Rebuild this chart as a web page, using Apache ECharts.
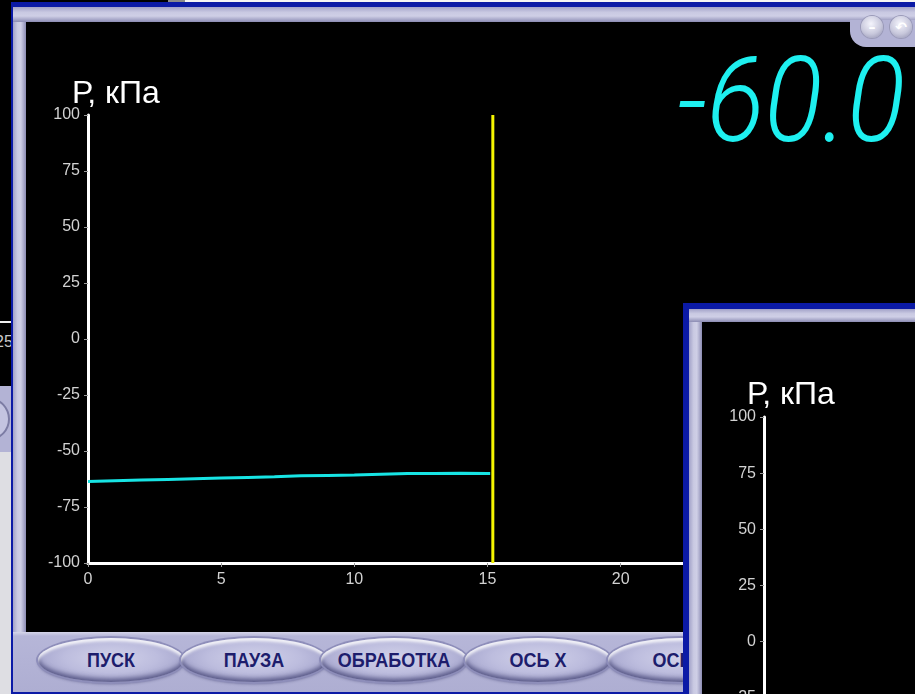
<!DOCTYPE html>
<html>
<head>
<meta charset="utf-8">
<script src="https://cdn.jsdelivr.net/npm/echarts@6/dist/echarts.min.js"></script>
<style>
  html, body { margin: 0; padding: 0; width: 915px; height: 694px; overflow: hidden; background: #000; font-family: "Liberation Sans", Arial, sans-serif; }
  .abs { position: absolute; }
  .lav { background: #b3b3d5; }
  .btn {
    position: absolute; top: 638px; width: 146px; height: 44px; border-radius: 50%;
    background: radial-gradient(ellipse at 50% 45%, #d2d2ea 0%, #bdbdde 45%, #a4a4cc 78%, #7a7aa6 100%);
    box-shadow: inset 0 3px 3px rgba(255,255,255,0.85), inset 0 -3px 5px rgba(60,60,110,0.75), 0 0 0 2px #8e8eba, 0 2px 3px rgba(60,60,110,0.6);
    display: flex; align-items: center; justify-content: center;
    color: #1d1d6c; font: bold 18px "Liberation Sans", Arial, sans-serif; white-space: nowrap;
  }
  .btn span { display: inline-block; transform: scaleY(1.15); }
  .knob {
    position: absolute; top: 16px; width: 22px; height: 22px; border-radius: 50%;
    background: radial-gradient(circle at 45% 35%, #f4f4fc 0%, #c8c8dc 55%, #8c8cac 100%);
    box-shadow: 0 0 0 1px #9a9ab8;
    color: #fff; font: bold 14px "DejaVu Sans", sans-serif; text-align: center; line-height: 22px;
  }
</style>
</head>
<body>
<!-- strip of the screen above the windows -->
<div class="abs" style="left:168px;top:0;width:17px;height:2px;background:#8a8a8a"></div>
<div class="abs" style="left:185px;top:0;width:730px;height:2px;background:#f4f4f4"></div>

<!-- window lying behind, visible at the left edge -->
<div class="abs" style="left:0;top:321px;width:12px;height:2px;background:#f0f0f0"></div>
<div class="abs" style="left:-5px;top:333px;font-size:16px;color:#c8c8c8;line-height:18px">25</div>
<div class="abs lav" style="left:0;top:386px;width:12px;height:66px"></div>
<div class="abs" style="left:-30px;top:398px;width:40px;height:42px;border-radius:50%;border:2px solid #7c7ca4;box-sizing:border-box;background:#c4c4e0"></div>
<div class="abs" style="left:0;top:452px;width:12px;height:242px;background:#dedee3"></div>

<!-- main window: blue border, lavender frame, black plot area -->
<div class="abs" style="left:11px;top:2px;width:904px;height:692px;background:#0b1aa6"></div>
<div class="abs lav" style="left:13px;top:7px;width:902px;height:685px"></div>
<div class="abs" style="left:13px;top:7px;width:13px;height:625px;background:linear-gradient(to right,#a2a2c8 0%,#c9c9e2 35%,#cfcfe6 60%,#8c8cb4 100%)"></div>
<div class="abs" style="left:13px;top:7px;width:902px;height:15px;background:linear-gradient(to bottom,#a2a2c8 0%,#c9c9e2 35%,#cfcfe6 60%,#8c8cb4 100%)"></div>
<div class="abs" style="left:26px;top:22px;width:889px;height:610px;background:#000"></div>
<div class="abs lav" style="left:850px;top:20px;width:65px;height:27px;border-bottom-left-radius:16px"></div>
<div class="knob" style="left:861px">&#8211;</div>
<div class="knob" style="left:890px">&#8630;</div>

<!-- control panel -->
<div class="abs" style="left:13px;top:632px;width:902px;height:60px;background:linear-gradient(to bottom,#d6d6ea 0,#b6b6d8 4px,#aeaed2 100%)"></div>
<div class="btn" style="left:38px"><span>ПУСК</span></div>
<div class="btn" style="left:181px"><span>ПАУЗА</span></div>
<div class="btn" style="left:321px"><span>ОБРАБОТКА</span></div>
<div class="btn" style="left:465px"><span>ОСЬ X</span></div>
<div class="btn" style="left:608px"><span>ОСЬ Y</span></div>

<div id="chart" class="abs" style="left:0;top:0;width:915px;height:694px"></div>

<!-- second window on top -->
<div class="abs" style="left:683px;top:303px;width:232px;height:391px;overflow:hidden;background:#0b1aa6">
  <div class="abs lav" style="left:6px;top:6px;width:226px;height:385px"></div>
  <div class="abs" style="left:6px;top:6px;width:13px;height:385px;background:linear-gradient(to right,#a2a2c8 0%,#c9c9e2 35%,#cfcfe6 60%,#8c8cb4 100%)"></div>
  <div class="abs" style="left:6px;top:6px;width:226px;height:13px;background:linear-gradient(to bottom,#a2a2c8 0%,#c9c9e2 35%,#cfcfe6 60%,#8c8cb4 100%)"></div>
  <div class="abs" style="left:19px;top:19px;width:213px;height:372px;background:#000;overflow:hidden">
    <div id="chart2" style="width:213px;height:600px"></div>
  </div>
</div>

<script>
// Recorded pressure trace: time in seconds, pressure in kPa
const timeS       = [0, 1, 2, 3, 4, 5, 6, 7, 8, 9, 10, 11, 12, 13, 14, 15, 15.1];
const pressureKPa = [-63.6, -63.3, -63.0, -62.7, -62.4, -62.1, -61.8, -61.5, -61.1, -60.9, -60.7, -60.4, -60.1, -60.0, -59.9, -60.0, -60.0];
// Position of the time cursor, seconds
const cursorS = 15.2;
// Axis ranges and tick steps
const pressureRange = { min: -100, max: 100, step: 25 };
const timeRange     = { min: 0, max: 30, step: 5 };
const axisTitle = 'Р, кПа';

const labelFont = { color: '#d2d2d2', fontSize: 16, fontFamily: '"Liberation Sans", Arial, sans-serif' };
const whiteLine = { color: '#ffffff', width: 3 };
const tickStyle = { show: true, length: 4, lineStyle: { color: '#9a9a9a', width: 1 } };

function pressureAxis() {
  return {
    type: 'value', min: pressureRange.min, max: pressureRange.max, interval: pressureRange.step,
    axisLine: { show: true, onZero: false, lineStyle: whiteLine },
    axisTick: tickStyle,
    axisLabel: Object.assign({ margin: 8 }, labelFont),
    splitLine: { show: false }
  };
}

// Digital readout shows the latest sample
const readout = pressureKPa[pressureKPa.length - 1].toFixed(1);

const chart = echarts.init(document.getElementById('chart'), null, { renderer: 'canvas' });
chart.setOption({
  animation: false,
  backgroundColor: 'transparent',
  grid: { left: 88, top: 115, width: 799, height: 448 },
  xAxis: {
    type: 'value', min: timeRange.min, max: timeRange.max, interval: timeRange.step,
    axisLine: { onZero: false, lineStyle: whiteLine },
    axisTick: tickStyle,
    axisLabel: Object.assign({ margin: 9 }, labelFont),
    splitLine: { show: false }
  },
  yAxis: pressureAxis(),
  series: [
    {
      type: 'line', name: 'P',
      data: timeS.map((t, i) => [t, pressureKPa[i]]),
      showSymbol: false, lineStyle: { color: '#17e4e4', width: 3 }, z: 3
    },
    {
      type: 'line', name: 'cursor',
      data: [[cursorS, pressureRange.min], [cursorS, pressureRange.max]],
      showSymbol: false, lineStyle: { color: '#f4f400', width: 3 }, z: 4
    }
  ],
  graphic: [
    { type: 'text', x: 72, y: 94, style: { text: axisTitle, fill: '#ffffff', font: '32px "Liberation Sans", Arial, sans-serif', textAlign: 'left', textVerticalAlign: 'middle' } },
    { type: 'text', x: 905, y: 111, scaleX: 0.91,
      style: { text: readout, fill: '#1ef0f0', font: 'italic 300 118px Roboto, "DejaVu Sans", sans-serif', textAlign: 'right', textVerticalAlign: 'middle' } }
  ]
});

const chart2 = echarts.init(document.getElementById('chart2'), null, { renderer: 'canvas' });
chart2.setOption({
  animation: false,
  backgroundColor: 'transparent',
  grid: { left: 62, top: 95, width: 140, height: 449 },
  xAxis: { type: 'value', min: timeRange.min, max: timeRange.max, show: false },
  yAxis: pressureAxis(),
  series: [{ type: 'line', data: [], showSymbol: false }],
  graphic: [
    { type: 'text', x: 45, y: 73, style: { text: axisTitle, fill: '#ffffff', font: '32px "Liberation Sans", Arial, sans-serif', textAlign: 'left', textVerticalAlign: 'middle' } }
  ]
});
</script>
</body>
</html>
